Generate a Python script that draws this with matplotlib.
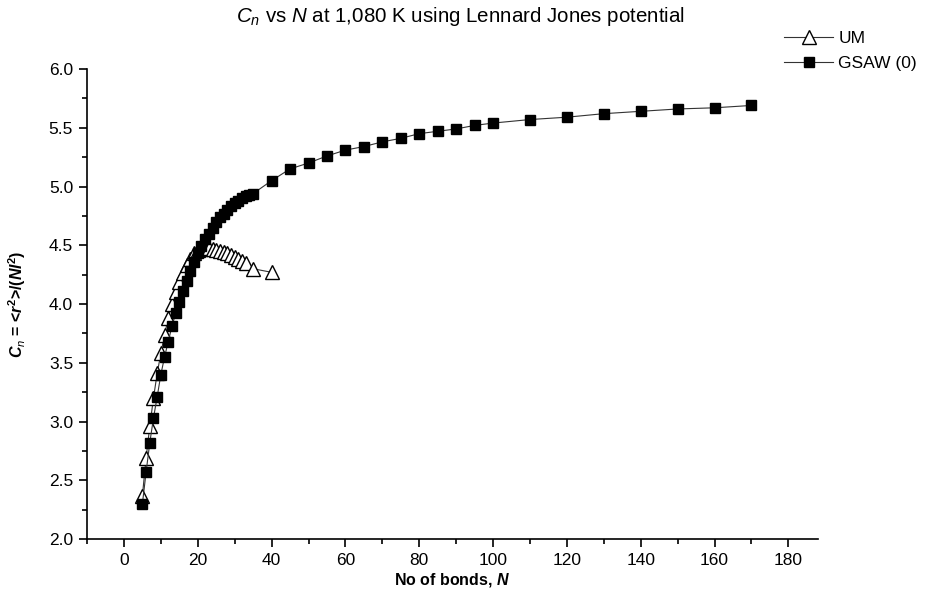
import matplotlib
matplotlib.use("Agg")
import matplotlib.pyplot as plt
from matplotlib.ticker import MultipleLocator, FormatStrFormatter

plt.rcParams['font.family'] = ['Liberation Sans', 'DejaVu Sans']
plt.rcParams['mathtext.fontset'] = 'custom'
plt.rcParams['mathtext.rm'] = 'Liberation Sans'
plt.rcParams['mathtext.it'] = 'Liberation Sans:italic'
plt.rcParams['mathtext.bf'] = 'Liberation Sans:bold'
plt.rcParams['mathtext.bfit'] = 'Liberation Sans:italic:bold'

# UM data (bonds, Cn)
um_n = list(range(5, 34)) + [35, 40]
um_c = [2.37, 2.69, 2.96, 3.20, 3.41, 3.58, 3.74, 3.88, 4.00, 4.10,
        4.19, 4.26, 4.33, 4.38, 4.43, 4.46, 4.47, 4.48, 4.48, 4.47,
        4.46, 4.45, 4.44, 4.43, 4.42, 4.40, 4.38, 4.37, 4.35,
        4.30, 4.27]

# GSAW (0) data
gs_n = list(range(5, 36)) + [40, 45, 50, 55, 60, 65, 70, 75, 80, 85, 90, 95,
                             100, 110, 120, 130, 140, 150, 160, 170]
gs_c = [2.30, 2.57, 2.82, 3.03, 3.21, 3.40, 3.55, 3.68, 3.81, 3.92,
        4.02, 4.11, 4.20, 4.28, 4.36, 4.43, 4.49, 4.55, 4.60, 4.65,
        4.70, 4.74, 4.77, 4.80, 4.83, 4.86, 4.88, 4.90, 4.92, 4.93, 4.94,
        5.05, 5.15, 5.20, 5.26, 5.31, 5.34, 5.38, 5.41, 5.45, 5.47, 5.49, 5.52,
        5.54, 5.57, 5.59, 5.62, 5.64, 5.66, 5.67, 5.69]

fig = plt.figure(figsize=(9.28, 5.94), dpi=100)
ax = fig.add_axes([0.0938, 0.0926, 0.7875, 0.7912])

ax.plot(um_n, um_c, color='#333333', lw=0.8, marker='^', ms=9.5,
        mfc='white', mec='black', mew=1.0, label='UM')
ax.plot(gs_n, gs_c, color='#333333', lw=0.8, marker='s', ms=7.2,
        mfc='black', mec='black', label='GSAW (0)')

ax.set_xlim(-10, 188)
ax.set_ylim(2.0, 6.0)
ax.set_xticks(range(0, 181, 20))
ax.xaxis.set_minor_locator(MultipleLocator(10))
ax.yaxis.set_major_locator(MultipleLocator(0.5))
ax.yaxis.set_minor_locator(MultipleLocator(0.25))
ax.yaxis.set_major_formatter(FormatStrFormatter('%.1f'))

for s in ['top', 'right']:
    ax.spines[s].set_visible(False)
for s in ['left', 'bottom']:
    ax.spines[s].set_linewidth(1.2)
ax.tick_params(which='major', direction='out', length=6, width=1.2, labelsize=12.5, pad=4)
ax.tick_params(which='minor', direction='out', length=3.5, width=1.2)

ax.set_xlabel(r'No of bonds, $\mathbfit{N}$', fontsize=11.5, fontweight='bold', labelpad=2)
ax.set_ylabel(r'$\mathbfit{C}_{\mathit{n}}$ = <$\mathbfit{r}^{\mathbf{2}}$>/($\mathbfit{Nl}^{\mathbf{2}}$)',
              fontsize=11.5, fontweight='bold', labelpad=15)

fig.text(0.496, 0.973, r'$\mathit{C}_{\mathit{n}}$ vs $\mathit{N}$ at 1,080 K using Lennard Jones potential',
         ha='center', va='center', fontsize=14.8)

ax.legend(loc='upper left', bbox_to_anchor=(0.836, 0.962), bbox_transform=fig.transFigure,
          frameon=False, fontsize=12.5, handlelength=2.8, handletextpad=0.3,
          labelspacing=0.55, borderpad=0)

fig.savefig('out.png', dpi=100)
